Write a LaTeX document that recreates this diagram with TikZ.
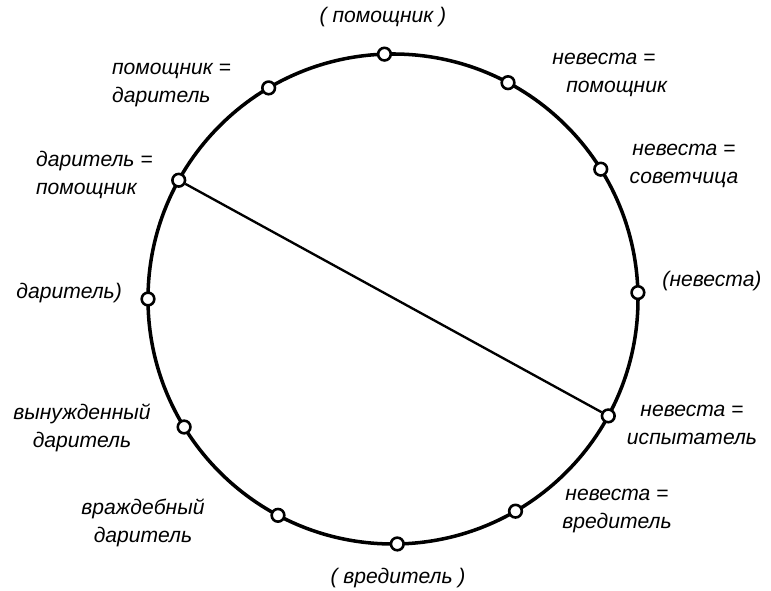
\documentclass[tikz,border=0pt]{standalone}
\usepackage{fontspec}
\setmainfont{Liberation Sans}
\tikzset{
  role/.style={circle,draw,fill=white,line width=2.2pt,minimum size=0.38cm,inner sep=0pt},
  lbl/.style={align=center,font=\itshape\fontsize{18}{22}\selectfont}
}
\begin{document}
\begin{tikzpicture}[x=0.03cm,y=0.03cm]
  \useasboundingbox (0,0) rectangle (771,591);
  \coordinate (c) at (393,292);
  \draw[line width=3pt] (c) circle (245);

  % points on the circle
  \foreach \ang/\nm in {92/top,62/nevpom,32/nevsov,1.5/nev,-28.5/nevisp,-60/nevvred,
                        -89/bottom,-118/vrazh,-148.5/vynuzh,180/dar,151/darpom,120.5/pomdar}
    \node[role] (\nm) at ([shift={(\ang:245)}]c) {};

  \draw[line width=2pt] (darpom) -- (nevisp);

  % labels
  \node[lbl] (ltop)     at (383,574) {( помощник )};
  \node[lbl] (lnevpom)  at (604,516) {невеста =\\[2pt]\hspace*{1.2em}помощник};
  \node[lbl] (lnevsov)  at (684,425) {невеста =\\[2pt]советчица};
  \node[lbl] (lnev)     at (712,310) {(невеста)};
  \node[lbl] (lnevisp)  at (692,166) {невеста =\\[2pt]испытатель};
  \node[lbl] (lnevvred) at (617,80)  {невеста =\\[2pt]вредитель};
  \node[lbl] (lbottom)  at (398,13)  {( вредитель )};
  \node[lbl] (lvrazh)   at (143,68)  {враждебный\\[2pt]даритель};
  \node[lbl] (lvynuzh)  at (82,163)  {вынужденный\\[2pt]даритель};
  \node[lbl,anchor=east] (ldar) at (126,298) {даритель)};
  \node[lbl,align=left,anchor=west] (ldarpom) at (32,416) {даритель =\\[2pt]помощник};
  \node[lbl,align=left,anchor=west] (lpomdar) at (108,506) {помощник =\\[2pt]даритель};
\end{tikzpicture}
\end{document}
